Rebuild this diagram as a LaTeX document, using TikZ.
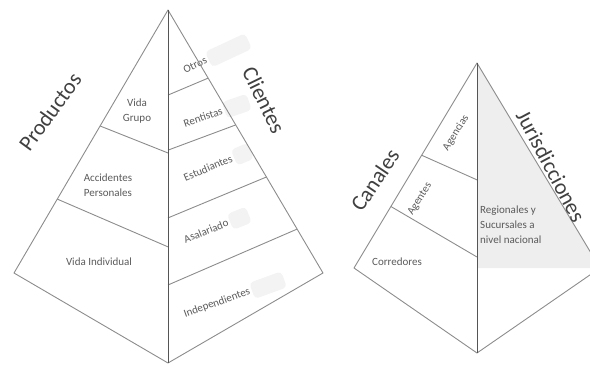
\documentclass[tikz,border=0pt]{standalone}
\usepackage{fontspec}
\setmainfont{Carlito}
\usetikzlibrary{calc, positioning}
\definecolor{LN}{RGB}{140,140,140}
\definecolor{AX}{RGB}{85,85,85}
\definecolor{TX}{RGB}{90,90,90}
\definecolor{TT}{RGB}{64,64,64}
\definecolor{SH}{RGB}{238,238,238}
\definecolor{SL}{RGB}{243,243,243}

\begin{document}
\begin{tikzpicture}[x=1pt, y=-1pt,
  edge/.style={draw=LN, line width=0.9pt, line join=round},
  axis/.style={draw=AX, line width=0.8pt},
  ttl/.style={font=\fontsize{22}{26}\selectfont, text=TT, inner sep=0pt},
  lbl/.style={font=\fontsize{11}{15}\selectfont, text=TX,
              align=center, inner sep=0pt},
  shbox/.style={fill=SL, rounded corners=4pt, minimum height=17pt,
                inner sep=0pt, anchor=west}
]
\useasboundingbox (0,0) rectangle (590,367);
\clip (0,0) rectangle (590,367);

% corners of the two pyramids
\coordinate (pA) at (168,10);
\coordinate (pL) at (14,273);
\coordinate (pB) at (168,363);
\coordinate (pR) at (323,273);
\coordinate (qA) at (477,63);
\coordinate (qL) at (354,268);
\coordinate (qB) at (477,353);
\coordinate (qR) at (600,268);
\coordinate (qM) at (477,268);

% shaded face (Jurisdicciones)
\fill[SH] (qA) -- (qR) -- (qM) -- cycle;

% Clientes labels with their shaded boxes
\foreach \nm/\x/\y/\ang/\txt/\gw in {
  otros/195/65/25/Otros/44,
  rentistas/203/117/19/Rentistas/26,
  estudiantes/208/168/23/Estudiantes/18,
  asalariado/206/231/22/Asalariado/20,
  independientes/217/303/20/Independientes/34}{%
  \node[lbl, rotate=\ang] (\nm) at (\x,\y) {\txt};
  \node[shbox, rotate=\ang, minimum width=\gw] (\nm bg)
    at ([xshift=2pt]\nm.east) {};
}

% left pyramid
\draw[edge] (pA) -- (pR) -- (pB) -- (pL) -- cycle;
\foreach \c/\e in {0.405/0.441, 0.671/0.719}
  \draw[edge] ($(pA)!\c!(pB)$) -- ($(pA)!\e!(pL)$);
\foreach \c/\e in {0.241/0.259, 0.397/0.437, 0.589/0.635, 0.779/0.833}
  \draw[edge] ($(pA)!\c!(pB)$) -- ($(pA)!\e!(pR)$);
\draw[axis] (pA) -- (pB);

% right pyramid
\draw[edge] (qA) -- (qR) -- (qB) -- (qL) -- cycle;
\foreach \c/\e in {0.403/0.45, 0.669/0.70}
  \draw[edge] ($(qA)!\c!(qB)$) -- ($(qA)!\e!(qL)$);
\draw[axis] (qA) -- (qB);

% Productos
\node[lbl] (vgrupo) at (137,111) {Vida\\Grupo};
\node[lbl] (accid) at (108,185) {Accidentes\\Personales};
\node[lbl] (vindiv) at (99,262) {Vida Individual};

% Canales
\node[lbl, rotate=58] (agencias) at (456,133) {Agencias};
\node[lbl, rotate=58] (agentes) at (420,199) {Agentes};
\node[lbl] (corredores) at (397,262) {Corredores};

% Jurisdicciones
\node[lbl, align=left, anchor=north west] (region) at (480,206)
  {Regionales y\\Sucursales a\\nivel nacional};

% titles
\node[ttl, rotate=54] (productos) at (50,112) {Productos};
\node[ttl, rotate=-64] (clientes) at (264,100) {Clientes};
\node[ttl, rotate=56] (canales) at (375,180) {Canales};
\node[ttl, rotate=-62] (jurisd) at (551,166) {Jurisdicciones};
\end{tikzpicture}
\end{document}
